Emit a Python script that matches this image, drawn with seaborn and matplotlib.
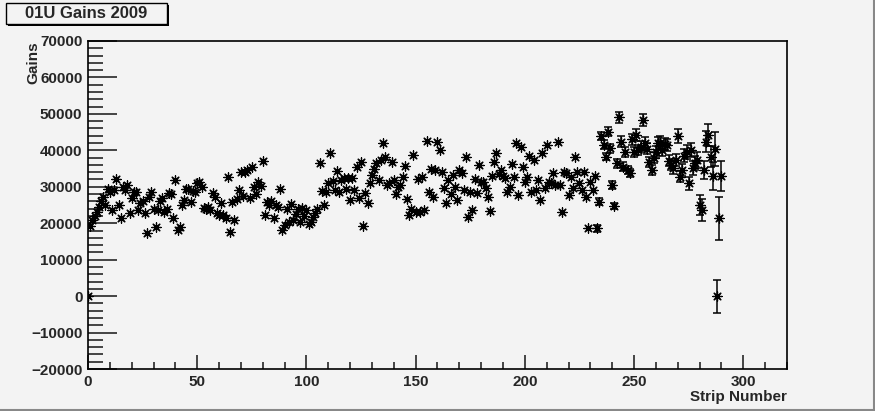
import seaborn as sns
import pandas as pd
import matplotlib.pyplot as plt
from matplotlib.patches import Rectangle
from matplotlib.ticker import MultipleLocator

# strip numbers and gains
strips = list(range(0, 291))
gains = [
    0, 19200, 20900, 22000, 23200, 24500, 26000, 27300, 25000, 29300,
    28500, 23600, 29000, 32000, 25000, 21300, 30000, 29000, 30500, 22700,
    26800, 28600, 28500, 23600, 25500, 26000, 22800, 17400, 27300, 28500,
    24000, 19000, 23600, 26200, 27000, 23000, 24000, 28400, 28000, 21300,
    31900, 18100, 18900, 25000, 26500, 29300, 29300, 25900, 28800, 28500,
    31000, 31400, 30000, 24100, 23800, 24500, 23600, 28200, 27300, 22700,
    22300, 25500, 22300, 21300, 32600, 17700, 25800, 20900, 26600, 29100,
    34100, 27500, 34100, 34600, 27000, 35500, 30000, 28000, 31400, 30200,
    37200, 22300, 25900, 25000, 26000, 21300, 24900, 24500, 29300, 18100,
    19500, 23800, 20400, 25200, 20900, 22600, 24000, 20400, 24300, 22000,
    23500, 19800, 20400, 21800, 22800, 24000, 36400, 28900, 25000, 28500,
    31000, 39200, 31700, 29200, 34400, 28700, 31900, 32300, 29500, 32300,
    26400, 32300, 29100, 35500, 26800, 36900, 19200, 28200, 25500, 31000,
    33200, 34800, 36400, 31900, 37300, 42100, 38300, 30500, 31000, 36900,
    31900, 28000, 30000, 30500, 32800, 35700, 26600, 22300, 23800, 38700,
    23200, 32000, 23200, 32800, 23600, 42600, 28600, 34800, 27300, 34600,
    42400, 40100, 34100, 29600, 25600, 31900, 28000, 33200, 30000, 26400,
    34600, 33700, 29100, 38300, 21800, 28600, 23600, 32000, 28400, 36000,
    31400, 31400, 29600, 27100, 23400, 33000, 36900, 39200, 33500, 34600,
    33000, 32300, 28500, 30000, 36300, 32800, 42100, 27700, 41000, 35500,
    31400, 32800, 38400, 28600, 37300, 29100, 31900, 26400, 39200, 29600,
    41500, 31400, 31000, 33700, 30500, 42400, 30500, 23200, 34100, 33700,
    27700, 32800, 29600, 38300, 34100, 31000, 29100, 34100, 27300, 18600,
    31400, 29100, 33000, 18600, 25900, 43900, 41500, 38300, 45100, 40600,
    30500, 24700, 36400, 49100, 42400, 35500, 39600, 34600, 33900, 43000,
    39600, 44200, 40100, 41000, 48300, 42100, 40500, 36900, 34600, 38000,
    39600, 41900, 42100, 40000, 41700, 41500, 37200, 36000, 35100, 37300,
    43900, 32800, 34600, 38500, 39600, 31000, 40100, 35100, 36500, 37300,
    25000, 23600, 34600, 42400, 44200, 38300, 33000, 40300, 0, 21300, 33000,
]

# visible error bars only on the high strips (233..290)
err_start = 233
errors = [
    900, 1000, 1100, 1200, 1000, 1300, 1200, 1000, 900, 1200,
    1500, 1400, 1200, 1300, 1200, 1100, 1500, 1400, 1600, 1500,
    1500, 1700, 1600, 1500, 1400, 1300, 1500, 1600, 1700, 1700,
    1600, 1700, 1700, 1600, 1500, 1500, 1700, 1900, 1600, 1700,
    1800, 1900, 1800, 2000, 1900, 2000, 2200, 2800, 3000, 2400,
    2900, 3100, 2800, 3800, 4600, 4500, 5800, 4100,
]

df = pd.DataFrame({'Strip Number': strips, 'Gains': gains})
df_err = df.iloc[err_start:].copy()
df_err['err'] = errors

bg = '#f3f3f3'
sns.set_style('ticks')
plt.rcParams['font.family'] = ['Liberation Sans', 'DejaVu Sans']
plt.rcParams['font.weight'] = 'bold'

fig = plt.figure(figsize=(8.75, 4.11), dpi=100, facecolor=bg)
ax = fig.add_axes([88 / 875, 42 / 411, 699 / 875, 328 / 411])
ax.set_facecolor(bg)

ax.errorbar(df_err['Strip Number'], df_err['Gains'], yerr=df_err['err'],
            fmt='none', ecolor='black', elinewidth=1.1, capsize=3, capthick=1.1)
sns.scatterplot(data=df, x='Strip Number', y='Gains', ax=ax, marker=(8, 2, 0),
                color='black', s=45, linewidth=0.9, zorder=3)

ax.set_xlim(0, 320)
ax.set_ylim(-20000, 70000)
ax.xaxis.set_minor_locator(MultipleLocator(10))
ax.yaxis.set_major_locator(MultipleLocator(10000))
ax.yaxis.set_minor_locator(MultipleLocator(2000))
ax.set_xticks(range(0, 301, 50))
ax.tick_params(axis='x', which='major', direction='in', length=10, width=1.2, labelsize=11, pad=4)
ax.tick_params(axis='x', which='minor', direction='in', length=5, width=1.2)
ax.tick_params(axis='y', which='major', direction='in', length=21, width=1.2, labelsize=11, pad=4)
ax.tick_params(axis='y', which='minor', direction='in', length=11, width=1.2)
for lab in ax.get_xticklabels() + ax.get_yticklabels():
    lab.set_fontweight('bold')
for sp in ax.spines.values():
    sp.set_visible(True)
    sp.set_linewidth(1.2)
    sp.set_color('black')

ax.set_xlabel('Strip Number', fontsize=11, fontweight='bold', labelpad=0)
ax.xaxis.set_label_coords(1.0, -0.064)
ax.xaxis.label.set_horizontalalignment('right')
ax.set_ylabel('Gains', fontsize=11, fontweight='bold')
ax.yaxis.set_label_coords(-0.068, 1.0)
ax.yaxis.label.set_horizontalalignment('right')

# title box with shadow, ROOT style
fig.patches.append(Rectangle((8 / 875, (411 - 26) / 411), 161 / 875, 21 / 411,
                             transform=fig.transFigure, facecolor='black', edgecolor='none'))
fig.patches.append(Rectangle((6 / 875, (411 - 24) / 411), 161 / 875, 21 / 411,
                             transform=fig.transFigure, facecolor=bg, edgecolor='black', linewidth=1))
fig.text(86 / 875, (411 - 14) / 411, '01U Gains 2009', ha='center', va='center',
         fontsize=12, fontweight='bold')

# canvas border on the right and bottom
fig.add_artist(plt.Line2D([873.5 / 875, 873.5 / 875], [0, 1], transform=fig.transFigure,
                          color='#888888', linewidth=1.5))
fig.add_artist(plt.Line2D([0, 1], [1.5 / 411, 1.5 / 411], transform=fig.transFigure,
                          color='#888888', linewidth=1.5))

fig.savefig('out.png', dpi=100, facecolor=bg)
